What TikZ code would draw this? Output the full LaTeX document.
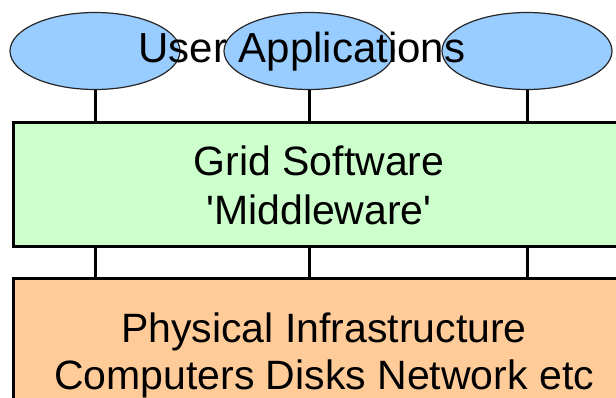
\documentclass[tikz,border=0pt]{standalone}
\usepackage{fontspec}
\setmainfont{Liberation Sans}
\usetikzlibrary{shapes.geometric}
\definecolor{appbleu}{RGB}{153,204,255}
\definecolor{midvert}{RGB}{204,255,204}
\definecolor{physorange}{RGB}{255,204,153}

\begin{document}
\begin{tikzpicture}[x=1pt,y=-1pt,
    app/.style={ellipse, draw=black!85, line width=1.2pt, fill=appbleu,
      minimum width=170pt, minimum height=77pt, inner sep=0pt},
    couche/.style={draw, line width=3pt, anchor=north west, inner sep=0pt,
      outer sep=0pt, align=center, font=\fontsize{41}{49}\selectfont},
    lien/.style={line width=3pt}]
  \path[use as bounding box, clip] (0,0) rectangle (616,398);
  % applications
  \node[app] (app1) at (95,51) {};
  \node[app] (app2) at (309,51) {};
  \node[app] (app3) at (527,51) {};
  \node[anchor=base, font=\fontsize{42}{50}\selectfont] (titre) at (302,63) {User Applications};
  % couches
  \node[couche, fill=midvert, minimum width=612pt, minimum height=124pt] (mid)
    at (13,123) {Grid Software\\\textquotesingle Middleware\textquotesingle};
  \node[couche, fill=physorange, minimum width=622pt, minimum height=152pt,
    font=\fontsize{41}{47}\selectfont] (phys)
    at (13,279) {Physical Infrastructure\\Computers Disks Network etc};
  % liens
  \foreach \a in {app1,app2,app3}{
    \draw[lien] (\a.south) -- (\a.south |- mid.north);
    \draw[lien] (\a.south |- mid.south) -- (\a.south |- phys.north);
  }
\end{tikzpicture}
\end{document}
